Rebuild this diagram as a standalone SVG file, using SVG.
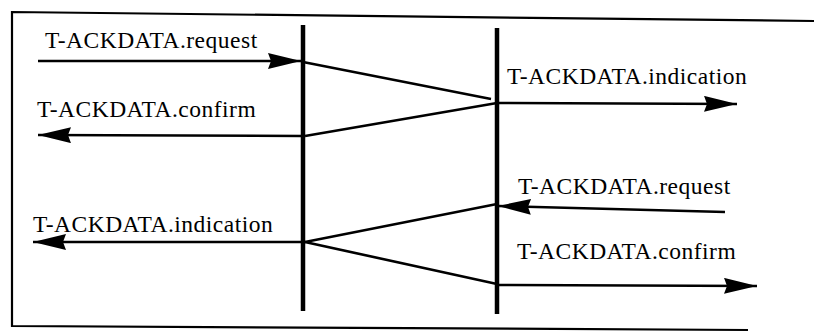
<svg xmlns="http://www.w3.org/2000/svg" width="814" height="334" viewBox="0 0 814 334">
<defs>
<marker id="ah" markerUnits="userSpaceOnUse" markerWidth="36" markerHeight="18" refX="33" refY="8" orient="auto" viewBox="0 0 36 18">
<path d="M0,0 L33,8 L0,16 L3,8 z" fill="#000"/>
</marker>
</defs>
<rect width="814" height="334" fill="#fff"/>
<g id="frame" fill="none" stroke="#000" stroke-width="2.2">
<path d="M814,21 L12,12 L12,326 L748,330"/>
</g>
<g id="entity-left" stroke="#000" stroke-width="4.5">
<line x1="303" y1="25" x2="303" y2="311"/>
</g>
<g id="entity-right" stroke="#000" stroke-width="4.5">
<line x1="497" y1="28" x2="497" y2="314"/>
</g>
<g id="connectors" fill="none" stroke="#000" stroke-width="2.6">
<line x1="38" y1="61" x2="301" y2="61" marker-end="url(#ah)"/>
<line x1="303" y1="62" x2="491" y2="99"/>
<line x1="497" y1="103" x2="737" y2="104" marker-end="url(#ah)"/>
<line x1="497" y1="103" x2="305" y2="136"/>
<line x1="303" y1="136" x2="38" y2="135" marker-end="url(#ah)"/>
<line x1="725" y1="212" x2="498" y2="206" marker-end="url(#ah)"/>
<line x1="497" y1="204" x2="305" y2="242"/>
<line x1="303" y1="242" x2="33" y2="242" marker-end="url(#ah)"/>
<line x1="305" y1="242" x2="497" y2="284"/>
<line x1="497" y1="285" x2="757" y2="286" marker-end="url(#ah)"/>
</g>
<g id="labels">
<text x="45" y="48" font-family="Times New Roman" font-size="23.5" letter-spacing="0.5">T-ACKDATA.request</text>
<text x="507" y="84" font-family="Times New Roman" font-size="23.5" letter-spacing="0.5">T-ACKDATA.indication</text>
<text x="37" y="117" font-family="Times New Roman" font-size="23.5" letter-spacing="0.5">T-ACKDATA.confirm</text>
<text x="518" y="194" font-family="Times New Roman" font-size="23.5" letter-spacing="0.5">T-ACKDATA.request</text>
<text x="33" y="232" font-family="Times New Roman" font-size="23.5" letter-spacing="0.5">T-ACKDATA.indication</text>
<text x="517" y="259" font-family="Times New Roman" font-size="23.5" letter-spacing="0.5">T-ACKDATA.confirm</text>
</g>
</svg>
